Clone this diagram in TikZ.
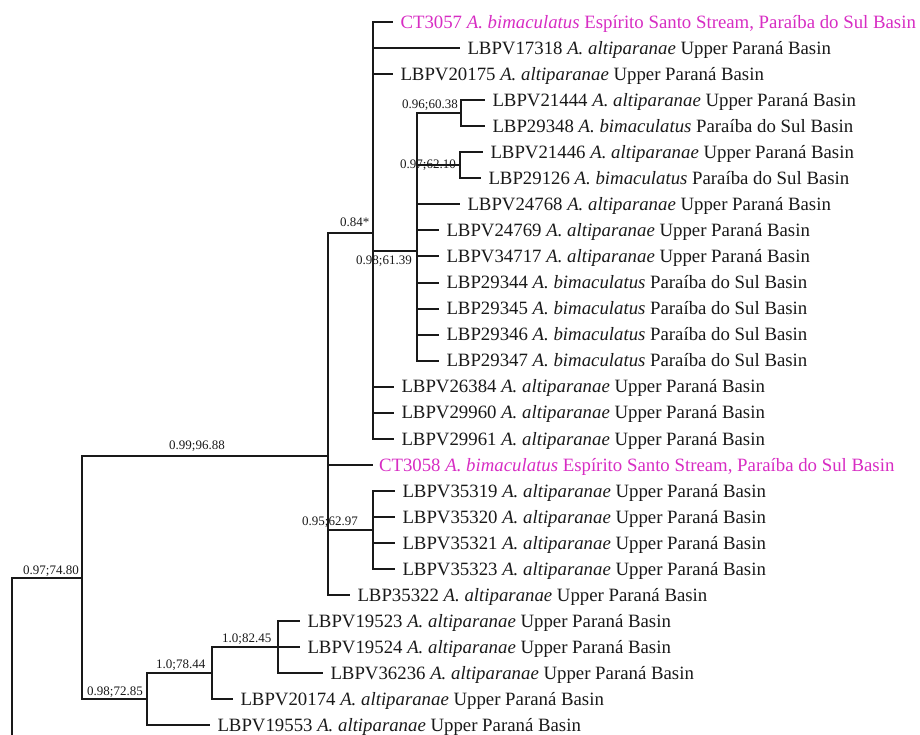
\documentclass[tikz,border=0pt]{standalone}
\usepackage{fontspec}
\setmainfont{Liberation Serif}
\definecolor{pinkish}{RGB}{215,45,195}
\newcommand{\alti}{\textit{A. altiparanae} Upper Paraná Basin}
\newcommand{\bima}{\textit{A. bimaculatus} Paraíba do Sul Basin}
\newcommand{\espi}{\textit{A. bimaculatus} Espírito Santo Stream, Paraíba do Sul Basin}
\tikzset{
  br/.style={line width=2pt, black!90},
  leaf/.style={anchor=west, inner xsep=7.5pt, inner ysep=0pt, outer sep=0pt,
    font=\fontsize{18.8}{20}\selectfont, text height=16.92pt, text depth=4.47pt, text=black!90},
  hl/.style={text=pinkish},
  bsup/.style={anchor=base west, inner sep=0pt, font=\fontsize{13}{15}\selectfont, text=black!90}
}
\begin{document}
\begin{tikzpicture}[x=1pt,y=-1pt]
\useasboundingbox (0,0) rectangle (920,735);
% internal nodes
\coordinate (R) at (12,735);
\coordinate (A) at (82,578);
\coordinate (B) at (328,456);
\coordinate (C) at (147,699);
\coordinate (D) at (373,233);
\coordinate (E) at (373,530);
\coordinate (F) at (417,251);
\coordinate (G) at (461,113);
\coordinate (H) at (460,165);
\coordinate (I) at (212,673);
\coordinate (J) at (278,647);
% leaves
\node[leaf,hl] (l1) at (393,22.0) {CT3057 \espi};
\node[leaf] (l2) at (460,48.05) {LBPV17318 \alti};
\node[leaf] (l3) at (393,74.1) {LBPV20175 \alti};
\node[leaf] (l4) at (485,100.15) {LBPV21444 \alti};
\node[leaf] (l5) at (485,126.2) {LBP29348 \bima};
\node[leaf] (l6) at (483,152.25) {LBPV21446 \alti};
\node[leaf] (l7) at (481,178.3) {LBP29126 \bima};
\node[leaf] (l8) at (460,204.35) {LBPV24768 \alti};
\node[leaf] (l9) at (439,230.4) {LBPV24769 \alti};
\node[leaf] (l10) at (439,256.45) {LBPV34717 \alti};
\node[leaf] (l11) at (439,282.5) {LBP29344 \bima};
\node[leaf] (l12) at (439,308.55) {LBP29345 \bima};
\node[leaf] (l13) at (439,334.6) {LBP29346 \bima};
\node[leaf] (l14) at (439,360.65) {LBP29347 \bima};
\node[leaf] (l15) at (394,386.7) {LBPV26384 \alti};
\node[leaf] (l16) at (394,412.75) {LBPV29960 \alti};
\node[leaf] (l17) at (394,438.8) {LBPV29961 \alti};
\node[leaf,hl,inner xsep=6pt] (l18) at (373,464.85) {CT3058 \espi};
\node[leaf] (l19) at (395,490.9) {LBPV35319 \alti};
\node[leaf] (l20) at (395,516.95) {LBPV35320 \alti};
\node[leaf] (l21) at (395,543.0) {LBPV35321 \alti};
\node[leaf] (l22) at (395,569.05) {LBPV35323 \alti};
\node[leaf] (l23) at (350,595.1) {LBP35322 \alti};
\node[leaf] (l24) at (300,621.15) {LBPV19523 \alti};
\node[leaf] (l25) at (300,647.2) {LBPV19524 \alti};
\node[leaf] (l26) at (323,673.25) {LBPV36236 \alti};
\node[leaf] (l27) at (233,699.3) {LBPV20174 \alti};
\node[leaf] (l28) at (210,725.35) {LBPV19553 \alti};
% branches
\draw[br] (R) |- (A);
\draw[br] (A) |- (B);
\draw[br] (A) |- (C);
\draw[br] (B) |- (D);
\draw[br] (B) |- (l18.west);
\draw[br] (B) |- (E);
\draw[br] (B) |- (l23.west);
\foreach \n in {l1,l2,l3,l15,l16,l17} {\draw[br] (D) |- (\n.west);}
\draw[br] (D) |- (F);
\draw[br] (F) |- (G);
\draw[br] (F) |- (H);
\foreach \n in {l8,l9,l10,l11,l12,l13,l14} {\draw[br] (F) |- (\n.west);}
\foreach \n in {l4,l5} {\draw[br] (G) |- (\n.west);}
\foreach \n in {l6,l7} {\draw[br] (H) |- (\n.west);}
\foreach \n in {l19,l20,l21,l22} {\draw[br] (E) |- (\n.west);}
\draw[br] (C) |- (I);
\draw[br] (C) |- (l28.west);
\draw[br] (I) |- (J);
\draw[br] (I) |- (l27.west);
\foreach \n in {l24,l25,l26} {\draw[br] (J) |- (\n.west);}
% support labels
\node[bsup] (sA) at (23,574) {0.97;74.80};
\node[bsup] (sB) at (169,449) {0.99;96.88};
\node[bsup] (sC) at (87,695) {0.98;72.85};
\node[bsup] (sI) at (156,668) {1.0;78.44};
\node[bsup] (sJ) at (222,642) {1.0;82.45};
\node[bsup] (sE) at (302,525) {0.95;62.97};
\node[bsup] (sD) at (340,227) {0.84*};
\node[bsup] (sF) at (356,265) {0.98;61.39};
\node[bsup] (sG) at (402,109) {0.96;60.38};
\node[bsup] (sH) at (400,169) {0.97;62.10};
\end{tikzpicture}
\end{document}
